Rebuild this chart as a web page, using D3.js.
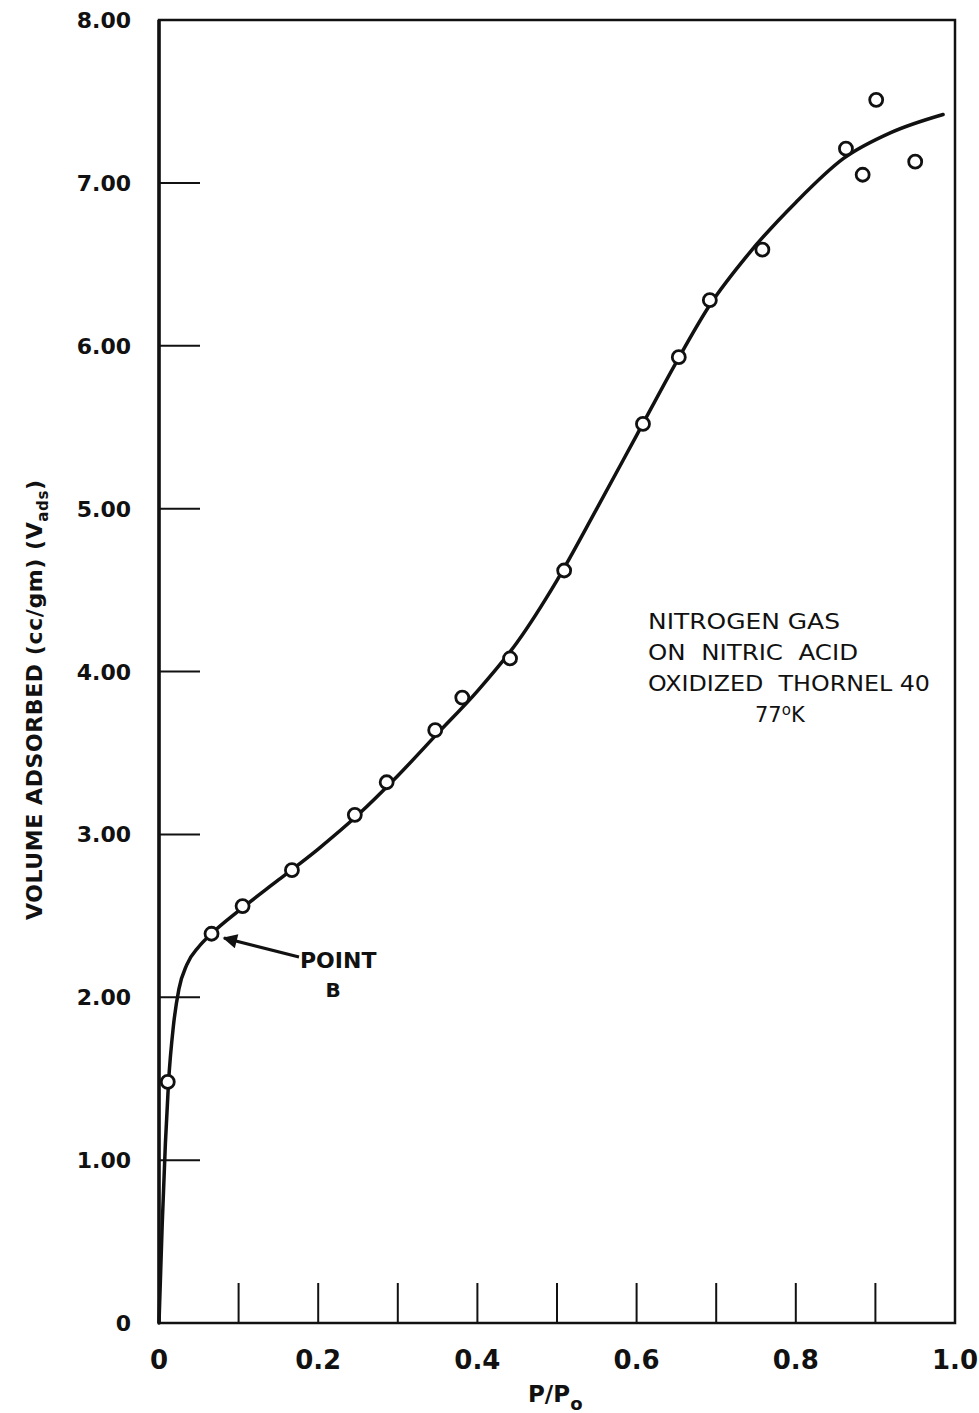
<!DOCTYPE html>
<html>
<head>
<meta charset="utf-8">
<script src="https://cdn.jsdelivr.net/npm/d3@7"></script>
<style>
  body { margin: 0; background: #fff; }
  text { font-family: "DejaVu Sans", sans-serif; fill: #111; }
</style>
</head>
<body>
<div id="chart"></div>
<script>
// data
var ptX = [0.011, 0.066, 0.105, 0.167, 0.246, 0.286, 0.347, 0.381, 0.441, 0.509, 0.608, 0.653, 0.692, 0.758, 0.863, 0.884, 0.901, 0.950];
var ptY = [1.48, 2.39, 2.56, 2.78, 3.12, 3.32, 3.64, 3.84, 4.08, 4.62, 5.52, 5.93, 6.28, 6.59, 7.21, 7.05, 7.51, 7.13];

// smooth fitted curve
var curveX = [0, 0.004, 0.008, 0.012, 0.018, 0.025, 0.035, 0.05, 0.066, 0.1, 0.15, 0.2, 0.25, 0.3, 0.35, 0.4, 0.45, 0.5, 0.55, 0.6, 0.65, 0.692, 0.74, 0.8, 0.86, 0.92, 0.985];
var curveY = [0, 0.6, 1.1, 1.48, 1.82, 2.05, 2.2, 2.31, 2.39, 2.53, 2.72, 2.91, 3.12, 3.36, 3.62, 3.88, 4.18, 4.56, 5.0, 5.45, 5.90, 6.25, 6.56, 6.88, 7.15, 7.31, 7.42];

var xTickVals = [0.1, 0.2, 0.3, 0.4, 0.5, 0.6, 0.7, 0.8, 0.9];
var xLabelVals = [0, 0.2, 0.4, 0.6, 0.8, 1.0];
var xLabels = ["0", "0.2", "0.4", "0.6", "0.8", "1.0"];
var yTickVals = [1, 2, 3, 4, 5, 6, 7];
var yLabelVals = [0, 1, 2, 3, 4, 5, 6, 7, 8];
var yLabels = ["0", "1.00", "2.00", "3.00", "4.00", "5.00", "6.00", "7.00", "8.00"];

var noteLines = ["NITROGEN GAS", "ON  NITRIC  ACID", "OXIDIZED  THORNEL 40"];
var noteWidths = [192, 210, 282];

var svgWidth = 979;
var svgHeight = 1413;

var svg = d3.select("#chart")
  .append("svg")
  .attr("width", svgWidth)
  .attr("height", svgHeight);

var x = d3.scaleLinear().domain([0, 1]).range([159, 955]);
var y = d3.scaleLinear().domain([0, 8]).range([1323, 20]);

// frame
svg.append("rect")
  .attr("x", x(0))
  .attr("y", y(8))
  .attr("width", x(1) - x(0))
  .attr("height", y(0) - y(8))
  .attr("fill", "none")
  .attr("stroke", "#111")
  .attr("stroke-width", 2.5);

svg.append("line")
  .attr("x1", x(0)).attr("x2", x(0))
  .attr("y1", y(8)).attr("y2", y(0))
  .attr("stroke", "#111")
  .attr("stroke-width", 3.5);

// bottom ticks pointing up
svg.selectAll(".xtick")
  .data(xTickVals)
  .enter()
  .append("line")
  .attr("class", "xtick")
  .attr("x1", d => x(d)).attr("x2", d => x(d))
  .attr("y1", y(0)).attr("y2", y(0) - 40)
  .attr("stroke", "#111")
  .attr("stroke-width", 2);

// left ticks pointing in
svg.selectAll(".ytick")
  .data(yTickVals)
  .enter()
  .append("line")
  .attr("class", "ytick")
  .attr("x1", x(0)).attr("x2", x(0) + 41)
  .attr("y1", d => y(d)).attr("y2", d => y(d))
  .attr("stroke", "#111")
  .attr("stroke-width", 2);

svg.selectAll(".xlab")
  .data(xLabelVals)
  .enter()
  .append("text")
  .attr("class", "xlab")
  .attr("x", d => x(d))
  .attr("y", y(0) + 46)
  .attr("text-anchor", "middle")
  .attr("font-family", "DejaVu Sans Condensed")
  .attr("font-size", "26px")
  .attr("font-weight", "bold")
  .text((d, i) => xLabels[i]);

svg.selectAll(".ylab")
  .data(yLabelVals)
  .enter()
  .append("text")
  .attr("class", "ylab")
  .attr("x", 131)
  .attr("y", d => y(d) + 8)
  .attr("text-anchor", "end")
  .attr("font-size", "22px")
  .attr("font-weight", "bold")
  .text((d, i) => yLabels[i]);

// axis titles
var xt = svg.append("text")
  .attr("x", 528)
  .attr("y", 1402)
  .attr("font-family", "DejaVu Sans Condensed")
  .attr("font-size", "23px")
  .attr("font-weight", "bold");
xt.append("tspan").text("P/P");
xt.append("tspan").attr("dy", 8).attr("font-size", "18px").text("o");

var yt = svg.append("text")
  .attr("transform", "translate(42, 700) rotate(-90)")
  .attr("text-anchor", "middle")
  .attr("font-size", "22px")
  .attr("font-weight", "bold")
  .attr("textLength", 440)
  .attr("lengthAdjust", "spacing");
yt.append("tspan").text("VOLUME  ADSORBED (cc/gm) (V");
yt.append("tspan").attr("dy", 6).attr("font-size", "15px").text("ads");
yt.append("tspan").attr("dy", -6).text(")");

// fitted curve
var line = d3.line()
  .x(d => x(d[0]))
  .y(d => y(d[1]))
  .curve(d3.curveMonotoneX);

svg.append("path")
  .datum(curveX.map((v, i) => [v, curveY[i]]))
  .attr("d", line)
  .attr("fill", "none")
  .attr("stroke", "#111")
  .attr("stroke-width", 3.5)
  .attr("stroke-linecap", "round");

// data points
svg.selectAll(".pt")
  .data(ptX.map((v, i) => [v, ptY[i]]))
  .enter()
  .append("circle")
  .attr("class", "pt")
  .attr("cx", d => x(d[0]))
  .attr("cy", d => y(d[1]))
  .attr("r", 6.5)
  .attr("fill", "#fff")
  .attr("stroke", "#111")
  .attr("stroke-width", 2.8);

// Point B annotation
svg.append("defs").append("marker")
  .attr("id", "arr")
  .attr("viewBox", "0 0 10 10")
  .attr("refX", 9).attr("refY", 5)
  .attr("markerWidth", 6).attr("markerHeight", 4.5)
  .attr("orient", "auto")
  .append("path")
  .attr("d", "M0,0 L10,5 L0,10 z")
  .attr("fill", "#111");

svg.append("line")
  .attr("x1", 299).attr("y1", 957)
  .attr("x2", 224).attr("y2", 938)
  .attr("stroke", "#111")
  .attr("stroke-width", 3.2)
  .attr("marker-end", "url(#arr)");

svg.append("text")
  .attr("x", 300).attr("y", 968)
  .attr("font-family", "DejaVu Sans Condensed")
  .attr("font-size", "22px")
  .attr("font-weight", "bold")
  .text("POINT");
svg.append("text")
  .attr("x", 333).attr("y", 997)
  .attr("text-anchor", "middle")
  .attr("font-family", "DejaVu Sans Condensed")
  .attr("font-size", "20px")
  .attr("font-weight", "bold")
  .text("B");

// note
svg.selectAll(".note")
  .data(noteLines)
  .enter()
  .append("text")
  .attr("class", "note")
  .attr("x", 648)
  .attr("y", (d, i) => 629 + i * 31)
  .attr("font-size", "21px")
  .attr("textLength", (d, i) => noteWidths[i])
  .attr("lengthAdjust", "spacingAndGlyphs")
  .style("white-space", "pre")
  .text(d => d);

var t77 = svg.append("text")
  .attr("x", 755).attr("y", 722)
  .attr("font-size", "21px");
t77.append("tspan").text("77");
t77.append("tspan").attr("font-size", "15px").attr("dy", -7).text("o");
t77.append("tspan").attr("dy", 7).text("K");
</script>
</body>
</html>
